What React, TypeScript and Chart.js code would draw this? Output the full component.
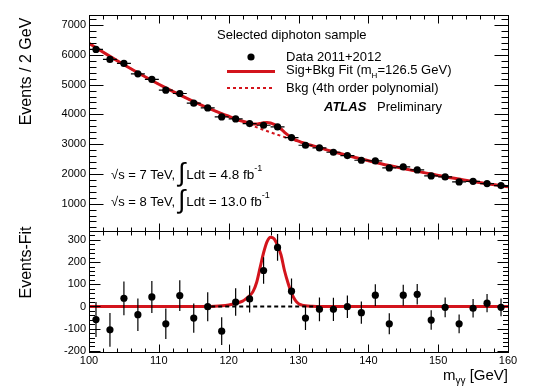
import React, { useEffect, useRef } from "react";
import { Chart, registerables } from "chart.js";

Chart.register(...registerables);

// ---- data ----
const MASS = [101, 103, 105, 107, 109, 111, 113, 115, 117, 119, 121, 123, 125, 127, 129, 131, 133, 135, 137, 139, 141, 143, 145, 147, 149, 151, 153, 155, 157, 159];
const EVENTS = [6182, 5846, 5711, 5362, 5173, 4813, 4702, 4375, 4218, 3915, 3847, 3692, 3635, 3578, 3221, 2962, 2873, 2727, 2615, 2458, 2435, 2199, 2232, 2132, 1930, 1896, 1728, 1751, 1673, 1606];
const EVENT_ERR = [79, 76, 76, 73, 72, 69, 69, 66, 65, 63, 62, 61, 60, 60, 57, 54, 54, 52, 51, 50, 49, 47, 47, 46, 44, 44, 42, 42, 41, 40];
const RESIDUAL = [-59, -105, 37, -37, 43, -78, 49, -52, -1, -111, 20, 34, 162, 266, 69, -52, -13, -13, -1, -28, 51, -78, 51, 55, -61, -4, -78, -8, 15, -4];
const BIN_HALF_WIDTH = 1;

const BKG_X = [100, 101, 103, 105, 107, 109, 111, 113, 115, 117, 119, 121, 123, 125, 127, 129, 131, 133, 135, 137, 139, 141, 143, 145, 147, 149, 151, 153, 155, 157, 159, 160];
const BKG_Y = [6390, 6240, 5950, 5670, 5400, 5140, 4890, 4655, 4430, 4220, 4025, 3835, 3655, 3480, 3315, 3160, 3015, 2880, 2745, 2620, 2500, 2385, 2280, 2180, 2085, 1995, 1905, 1825, 1745, 1670, 1600, 1565];

const FIT_X = [100, 101, 103, 105, 107, 109, 111, 113, 115, 117, 119, 120, 121, 122, 123, 123.5, 124, 124.5, 125, 125.5, 126, 126.5, 127, 127.5, 128, 128.5, 129, 129.5, 130, 130.5, 131, 132, 133, 135, 137, 139, 141, 143, 145, 147, 149, 151, 153, 155, 157, 159, 160];
const FIT_Y = [6390, 6240, 5950, 5670, 5400, 5140, 4890, 4655, 4430, 4220, 4027, 3937, 3849, 3769, 3703, 3680, 3675, 3698, 3722, 3730, 3709, 3661, 3590, 3508, 3398, 3304, 3220, 3153, 3100, 3057, 3018, 2948, 2880, 2745, 2620, 2500, 2385, 2280, 2180, 2085, 1995, 1905, 1825, 1745, 1670, 1600, 1565];

const SIG_X = [100, 117, 118, 119, 120, 121, 122, 122.5, 123, 123.5, 124, 124.5, 125, 125.5, 126, 126.5, 127, 127.5, 128, 128.5, 129, 129.5, 130, 130.5, 131, 132, 133, 160];
const SIG_Y = [0, 0, 1, 3, 7, 14, 24, 35, 48, 68, 108, 175, 242, 292, 312, 305, 275, 232, 161, 106, 60, 30, 13, 6, 3, 1, 0, 0];

const ZERO_X = [117.5, 133];
const ZERO_Y = [0, 0];

const X_TICKS = [100, 110, 120, 130, 140, 150, 160];
const TOP_Y_TICKS = [1000, 2000, 3000, 4000, 5000, 6000, 7000];
const BOT_Y_TICKS = [-200, -100, 0, 100, 200, 300];

// ---- style ----
const RED = "#d3141c";
const FONT = '"Liberation Sans", Arial, Helvetica, sans-serif';

const pts = (xs: number[], ys: number[]) => xs.map((x, i) => ({ x, y: ys[i] }));

const rootStyle = {
  id: "rootStyle",
  beforeDatasetDraw(chart: any, args: any) {
    const ds: any = chart.data.datasets[args.index];
    if (!ds.errMode) return;
    const ctx = chart.ctx;
    const xs = chart.scales.x;
    const ys = chart.scales[ds.yAxisID];
    ctx.save();
    ctx.strokeStyle = "#000";
    ctx.lineWidth = 1.2;
    ctx.beginPath();
    ds.data.forEach((p: any, i: number) => {
      const px = xs.getPixelForValue(p.x);
      const py = ys.getPixelForValue(p.y);
      const e = EVENT_ERR[i];
      if (ds.errMode === "top") {
        ctx.moveTo(xs.getPixelForValue(p.x - BIN_HALF_WIDTH), py);
        ctx.lineTo(xs.getPixelForValue(p.x + BIN_HALF_WIDTH), py);
      }
      ctx.moveTo(px, ys.getPixelForValue(p.y - e));
      ctx.lineTo(px, ys.getPixelForValue(p.y + e));
    });
    ctx.stroke();
    ctx.restore();
  },
  afterDraw(chart: any) {
    const ctx = chart.ctx;
    const { left: L, right: R, top: T } = chart.chartArea;
    const xs = chart.scales.x;
    const yt = chart.scales.yTop;
    const yb = chart.scales.yBot;
    const snap = (v: number) => Math.round(v) + 0.5;
    const seg = (x1: number, y1: number, x2: number, y2: number) => {
      ctx.beginPath();
      ctx.moveTo(x1, y1);
      ctx.lineTo(x2, y2);
      ctx.stroke();
    };
    ctx.save();
    ctx.strokeStyle = "#000";
    ctx.lineWidth = 1;
    const panels = [
      { s: yt, majors: TOP_Y_TICKS, minor: 200, yMaj: 14, yMin: 7, xMaj: 8, xMin: 4 },
      { s: yb, majors: BOT_Y_TICKS, minor: 20, yMaj: 11, yMin: 5.5, xMaj: 8, xMin: 4 },
    ];
    const l = snap(L);
    const r = snap(R);
    for (const p of panels) {
      const top = snap(p.s.top);
      const bot = snap(p.s.bottom);
      ctx.strokeRect(l, top, r - l, bot - top);
      for (let v = Math.ceil(p.s.min / p.minor) * p.minor; v <= p.s.max; v += p.minor) {
        const y = snap(p.s.getPixelForValue(v));
        const len = p.majors.includes(v) ? p.yMaj : p.yMin;
        seg(l, y, l + len, y);
        seg(r, y, r - len, y);
      }
      for (let v = xs.min; v <= xs.max; v += 2) {
        const x = snap(xs.getPixelForValue(v));
        const len = X_TICKS.includes(v) ? p.xMaj : p.xMin;
        seg(x, top, x, top + len);
        seg(x, bot, x, bot - len);
      }
    }

    // ---- texts ----
    ctx.fillStyle = "#000";
    ctx.textBaseline = "middle";
    ctx.textAlign = "left";
    const f = (size: number, style = "") => `${style} ${size}px ${FONT}`.trim();
    const put = (s: string, x: number, y: number, font: string) => {
      ctx.font = font;
      ctx.fillText(s, x, y);
      return x + ctx.measureText(s).width;
    };

    put("Selected diphoton sample", L + 128, T + 20, f(13));

    // legend
    ctx.beginPath();
    ctx.arc(L + 162, T + 42, 3.6, 0, Math.PI * 2);
    ctx.fill();
    put("Data 2011+2012", L + 197, T + 42, f(13));
    ctx.strokeStyle = RED;
    ctx.lineWidth = 3;
    seg(L + 138, T + 56.5, L + 186, T + 56.5);
    let cx = put("Sig+Bkg Fit (m", L + 197, T + 55, f(13));
    cx = put("H", cx, T + 61, f(8));
    put("=126.5 GeV)", cx, T + 55, f(13));
    ctx.lineWidth = 2;
    ctx.setLineDash([3, 3]);
    seg(L + 138, T + 73, L + 186, T + 73);
    ctx.setLineDash([]);
    put("Bkg (4th order polynomial)", L + 197, T + 73, f(13));
    put("ATLAS", L + 235, T + 92, f(13, "italic bold"));
    put("Preliminary", L + 288, T + 92, f(13));

    // energies / luminosities
    const lumiRows = [
      { s: "\u221As = 7 TeV,", l: "Ldt = 4.8 fb", y: T + 160 },
      { s: "\u221As = 8 TeV,", l: "Ldt = 13.0 fb", y: T + 187 },
    ];
    for (const row of lumiRows) {
      const sx = put(row.s, L + 22, row.y, f(13));
      const ix = Math.max(sx + 3, L + 85);
      const iEnd = put("\u222B", ix, row.y - 1, f(26));
      const ex = put(row.l, iEnd + 1, row.y, f(13.5));
      put("-1", ex, row.y - 6, f(9));
    }

    // axis titles
    ctx.font = f(16);
    ctx.textAlign = "center";
    ctx.save();
    ctx.translate(27, 71.5);
    ctx.rotate(-Math.PI / 2);
    ctx.fillText("Events / 2 GeV", 0, 0);
    ctx.restore();
    ctx.save();
    ctx.translate(27, 262.5);
    ctx.rotate(-Math.PI / 2);
    ctx.fillText("Events-Fit", 0, 0);
    ctx.restore();

    ctx.textAlign = "left";
    ctx.textBaseline = "alphabetic";
    ctx.font = f(15);
    const wM = ctx.measureText("m").width;
    const wG = ctx.measureText(" [GeV]").width;
    ctx.font = f(10);
    const wS = ctx.measureText("\u03B3\u03B3").width;
    let tx = R - (wM + wS + wG);
    ctx.font = f(15);
    ctx.fillText("m", tx, 380);
    tx += wM;
    ctx.font = f(10);
    ctx.fillText("\u03B3\u03B3", tx, 384);
    tx += wS;
    ctx.font = f(15);
    ctx.fillText(" [GeV]", tx, 380);
    ctx.restore();
  },
};

const yAxis = (ticks: number[], min: number, max: number, stackWeight: number, weight: number) => ({
  type: "linear" as const,
  position: "left" as const,
  stack: "panels",
  stackWeight,
  weight,
  min,
  max,
  bounds: "data" as const,
  grid: { display: false, drawTicks: false },
  border: { display: false },
  afterBuildTicks: (s: any) => {
    s.ticks = ticks.map((v) => ({ value: v }));
  },
  afterFit: (s: any) => {
    s.width = 89;
  },
  ticks: {
    color: "#000",
    font: { family: FONT, size: 11 },
    padding: 3,
    autoSkip: false,
    callback: (v: any) => String(v),
  },
});

export default function App() {
  const ref = useRef<HTMLCanvasElement>(null);
  useEffect(() => {
    const chart = new Chart(ref.current as HTMLCanvasElement, {
      type: "scatter",
      data: {
        datasets: [
          {
            label: "Data 2011+2012",
            data: pts(MASS, EVENTS),
            yAxisID: "yTop",
            showLine: false,
            pointRadius: 3.6,
            pointBackgroundColor: "#000",
            pointBorderWidth: 0,
            errMode: "top",
          } as any,
          {
            label: "Events-Fit",
            data: pts(MASS, RESIDUAL),
            yAxisID: "yBot",
            showLine: false,
            pointRadius: 3.6,
            pointBackgroundColor: "#000",
            pointBorderWidth: 0,
            errMode: "bot",
          } as any,
          {
            label: "zero",
            data: pts(ZERO_X, ZERO_Y),
            yAxisID: "yBot",
            showLine: true,
            borderColor: "#000",
            borderWidth: 2,
            borderDash: [4, 3],
            pointRadius: 0,
          },
          {
            label: "Sig+Bkg Fit",
            data: pts(FIT_X, FIT_Y),
            yAxisID: "yTop",
            showLine: true,
            borderColor: RED,
            borderWidth: 3,
            pointRadius: 0,
            cubicInterpolationMode: "monotone",
          },
          {
            label: "Bkg",
            data: pts(BKG_X, BKG_Y),
            yAxisID: "yTop",
            showLine: true,
            borderColor: RED,
            borderWidth: 2,
            borderDash: [3, 3],
            pointRadius: 0,
            cubicInterpolationMode: "monotone",
          },
          {
            label: "Sig",
            data: pts(SIG_X, SIG_Y),
            yAxisID: "yBot",
            showLine: true,
            borderColor: RED,
            borderWidth: 3,
            pointRadius: 0,
            cubicInterpolationMode: "monotone",
          },
        ],
      },
      options: {
        animation: false,
        responsive: false,
        events: [],
        layout: { padding: { left: 0, right: 32, top: 15, bottom: 0 } },
        plugins: { legend: { display: false }, tooltip: { enabled: false } },
        scales: {
          x: {
            type: "linear",
            position: "bottom",
            min: 100,
            max: 160,
            grid: { display: false, drawTicks: false },
            border: { display: false },
            afterBuildTicks: (s: any) => {
              s.ticks = X_TICKS.map((v) => ({ value: v }));
            },
            afterFit: (s: any) => {
              s.height = 36;
            },
            ticks: {
              color: "#000",
              font: { family: FONT, size: 11 },
              padding: 2,
              maxRotation: 0,
              autoSkip: false,
              callback: (v: any) => String(v),
            },
          },
          yBot: yAxis(BOT_Y_TICKS, -205, 340, 121, 0),
          yTop: yAxis(TOP_Y_TICKS, 80, 7340, 216, 1),
        } as any,
      },
      plugins: [rootStyle],
    });
    return () => chart.destroy();
  }, []);
  return (
    <div style={{ position: "fixed", left: 0, top: 0, width: 540, height: 388, background: "#fff" }}>
      <canvas ref={ref} width={540} height={388} style={{ display: "block", width: 540, height: 388 }} />
    </div>
  );
}
